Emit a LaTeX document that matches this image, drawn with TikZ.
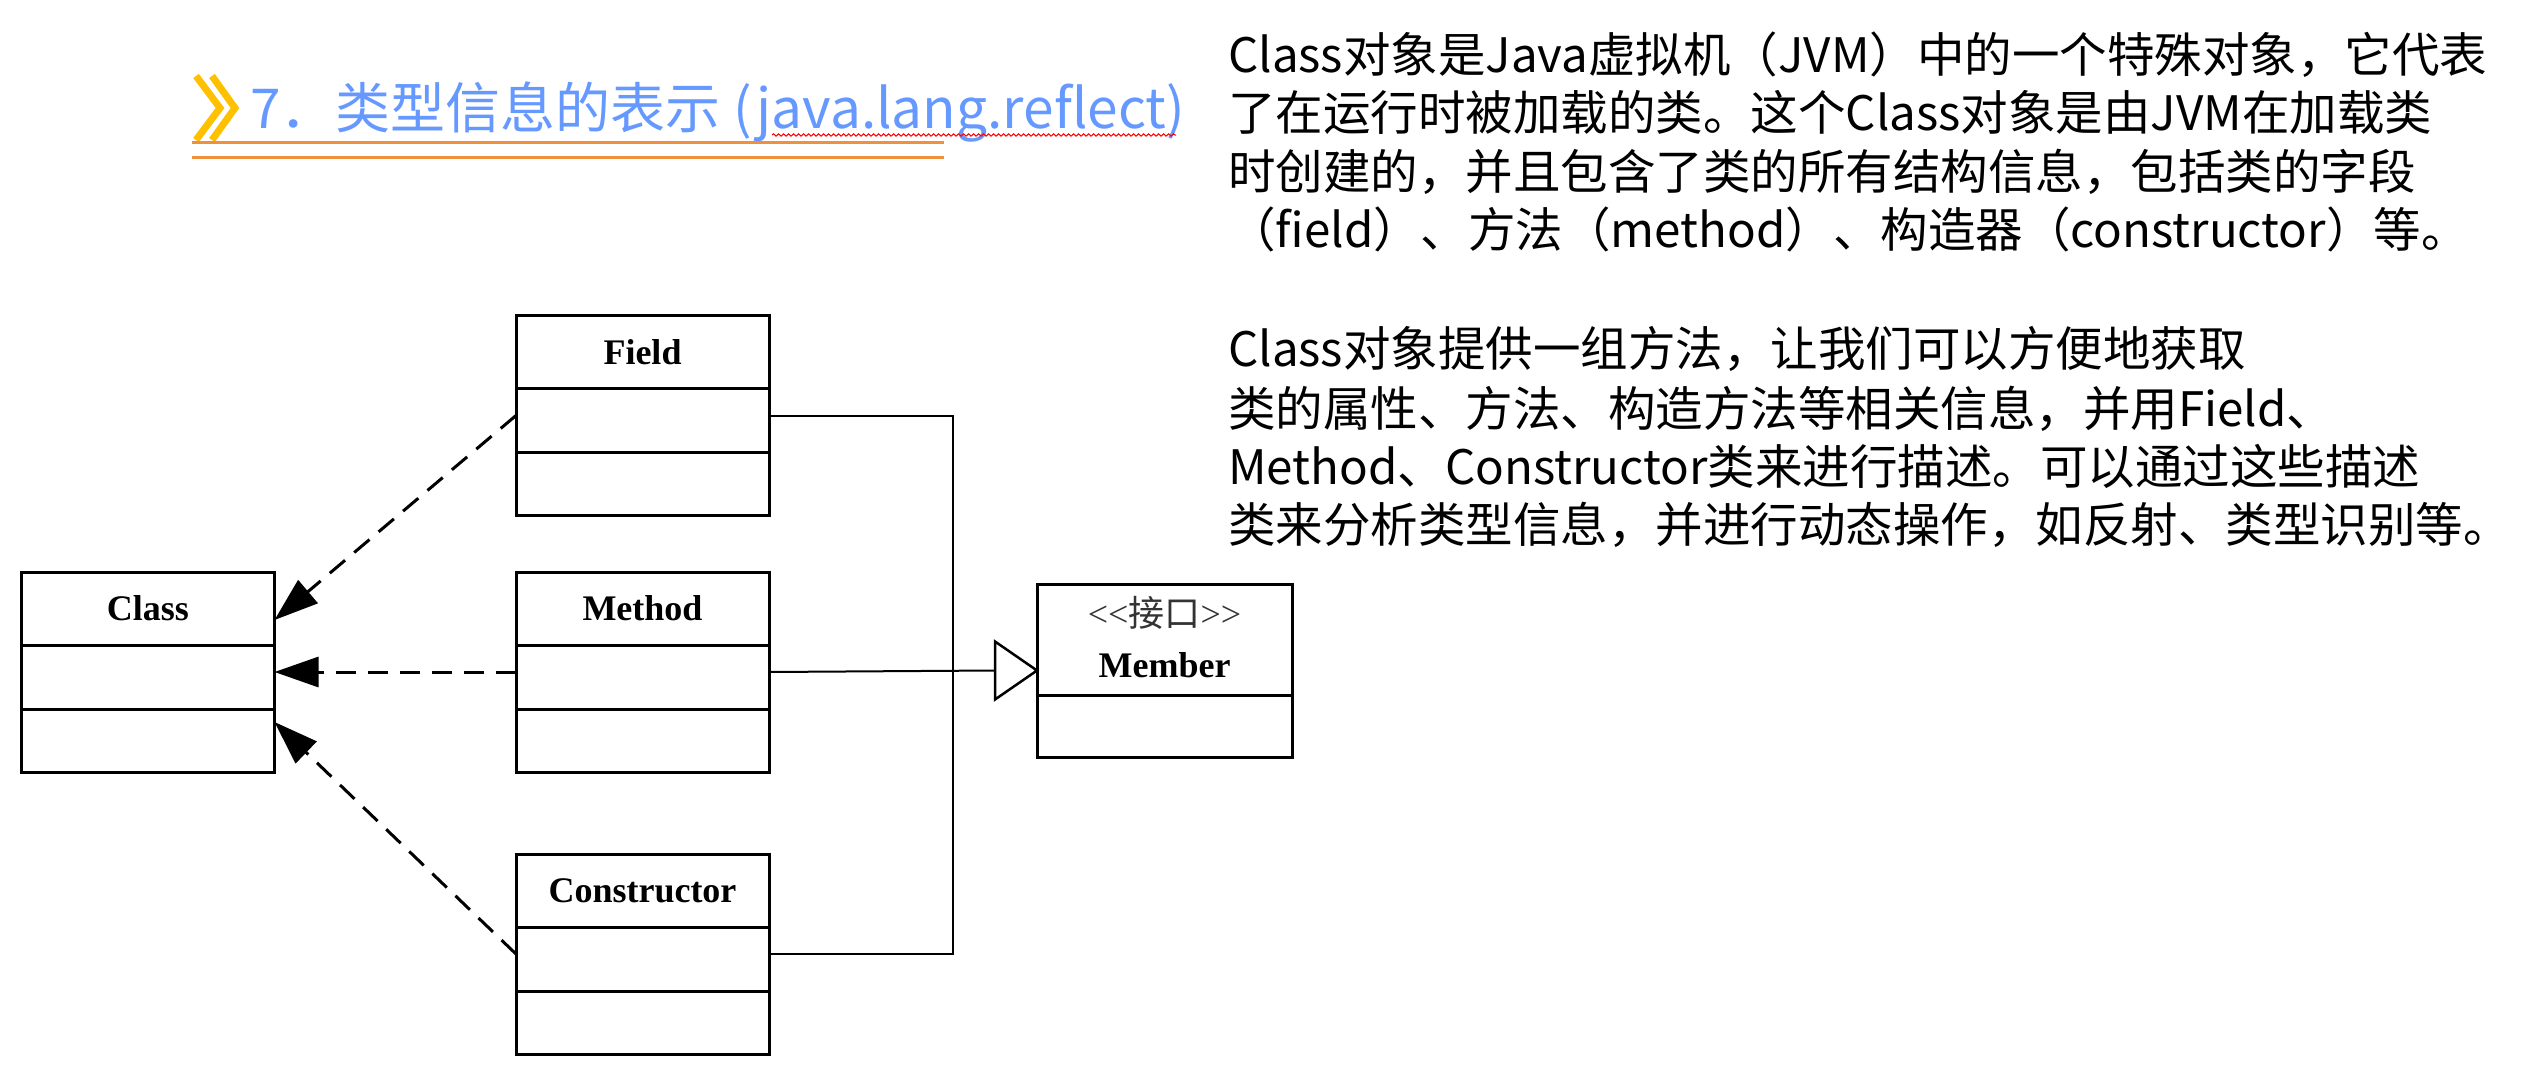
\documentclass[tikz,border=0pt]{standalone}
\usepackage{fontspec}
\setmainfont{Liberation Serif}
\newfontfamily\cjk{Noto Sans CJK SC}
\usetikzlibrary{arrows.meta,decorations.pathmorphing}
\definecolor{titleblue}{RGB}{102,153,255}
\definecolor{chev}{RGB}{255,192,0}
\definecolor{uline}{RGB}{240,144,60}
\begin{document}
\begin{tikzpicture}[x=1pt,y=-1pt,
  umlbox/.style={draw, line width=3pt, minimum width=253pt, minimum height=200pt, inner sep=0pt, outer sep=0pt},
  lbl/.style={font=\fontsize{36}{40}\selectfont\bfseries, inner sep=0pt},
  para/.style={anchor=base west, inner sep=0pt, font=\cjk\fontsize{47.5}{58}\selectfont},
  dep/.style={line width=3pt, dash pattern=on 20pt off 12pt, -{Triangle[length=44pt,width=30pt]}},
  assoc/.style={line width=2pt},
  divider/.style={line width=3pt}]
\useasboundingbox (0,0) rectangle (2543,1079);

% title
\draw[chev, line width=7pt] (196,76) -- (220,108) -- (196,140);
\draw[chev, line width=7pt] (212,76) -- (235,108) -- (212,140);
\node[anchor=base west, inner sep=0pt, text=titleblue, font=\cjk\fontsize{55}{62}\selectfont] (title) at (250,128) {7．类型信息的表示 (java.lang.reflect)};
\draw[red, line width=1pt, decorate, decoration={snake, amplitude=1.2pt, segment length=5pt}] (772,135) -- (1176,135);
\draw[uline, line width=3pt] (192,142) -- (944,142);
\draw[uline, line width=3pt] (192,157.5) -- (944,157.5);

% boxes
\node[umlbox] (class) at (148,672) {};
\node[umlbox] (field) at (642.5,415.5) {};
\node[umlbox] (method) at (642.5,672) {};
\node[umlbox] (cons) at (642.5,954) {};
\node[umlbox, minimum width=255pt, minimum height=173pt] (member) at (1164.5,670.5) {};

\foreach \b in {class,field,method,cons}{
  \draw[divider] ([yshift=-73pt]\b.north west) -- ([yshift=-73pt]\b.north east);
  \draw[divider] ([yshift=-137pt]\b.north west) -- ([yshift=-137pt]\b.north east);
}
\draw[divider] ([yshift=-111pt]member.north west) -- ([yshift=-111pt]member.north east);

\node[lbl] (classl) at ([yshift=-36.5pt]class.north) {Class};
\node[lbl] (fieldl) at ([yshift=-36.5pt]field.north) {Field};
\node[lbl] (methodl) at ([yshift=-36.5pt]method.north) {Method};
\node[lbl] (consl) at ([yshift=-36.5pt]cons.north) {Constructor};
\node[inner sep=0pt, text=black!80, font=\fontsize{36}{40}\selectfont] (stereo) at ([yshift=-29pt]member.north) {<{}<{\cjk 接口}>{}>};
\node[lbl] (memberl) at ([yshift=-81pt]member.north) {Member};

% connectors
\coordinate (j) at (953,672);
\draw[assoc] (field.east) -| (j) |- (cons.east);
\draw[assoc] (method.east) -- ([xshift=-42pt]member.west);
\draw[line width=2.5pt, fill=white] (member.west) -- ++(-42,-29) -- ++(0,58) -- cycle;

\draw[dep] (field.west) -- ([yshift=52pt]class.east);
\draw[dep] (method.west) -- (class.east);
\draw[dep] (cons.west) -- ([yshift=-50pt]class.east);

% text
\node[para] (p1a) at (1228,72) {Class对象是Java虚拟机（JVM）中的一个特殊对象，它代表};
\node[para] (p1b) at (1228,130) {了在运行时被加载的类。这个Class对象是由JVM在加载类};
\node[para] (p1c) at (1228,189) {时创建的，并且包含了类的所有结构信息，包括类的字段};
\node[para] (p1d) at (1228,247) {（field）、方法（method）、构造器（constructor）等。};
\node[para] (p2a) at (1228,366) {Class对象提供一组方法，让我们可以方便地获取};
\node[para] (p2b) at (1228,426) {类的属性、方法、构造方法等相关信息，并用Field、};
\node[para] (p2c) at (1228,484) {Method、Constructor类来进行描述。可以通过这些描述};
\node[para] (p2d) at (1228,542) {类来分析类型信息，并进行动态操作，如反射、类型识别等。};
\end{tikzpicture}
\end{document}
